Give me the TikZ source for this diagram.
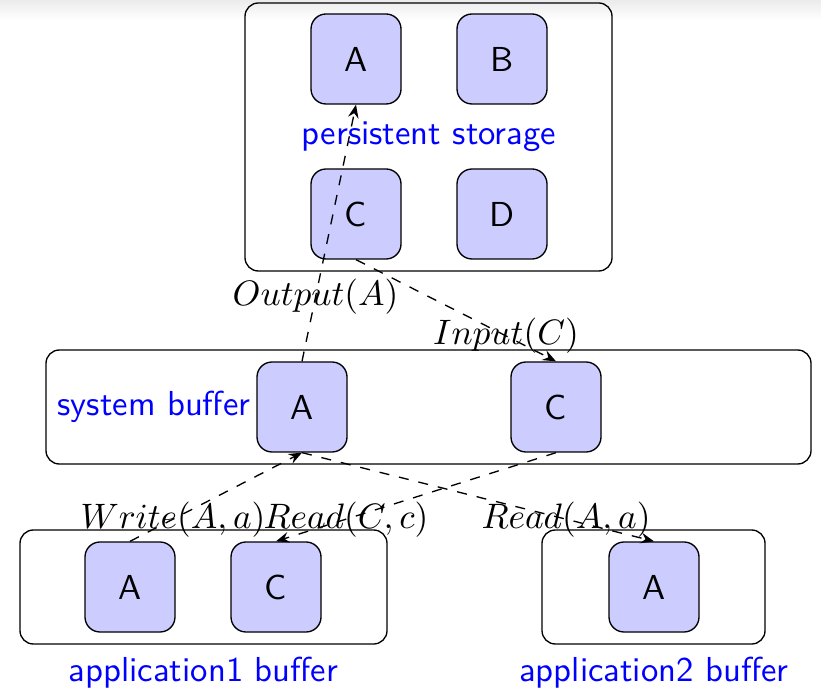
\documentclass[tikz,border=0pt]{standalone}
\usetikzlibrary{arrows.meta}
\begin{document}
\begin{tikzpicture}[x=0.3pt,y=-0.3pt,
  box/.style={draw, rounded corners=4pt, inner sep=0pt},
  blk/.style={draw, rounded corners=4.5pt, fill=blue!20, minimum width=27pt, minimum height=27pt, inner sep=0pt, font=\sffamily\fontsize{10.4}{12}\selectfont},
  lbl/.style={text=blue, font=\sffamily\fontsize{10.4}{12}\selectfont, inner sep=0pt, anchor=base},
  flow/.style={dashed, -{Stealth[length=4pt,width=3.2pt,inset=1.4pt]}},
  op/.style={inner sep=0pt, scale=1.06}]
\useasboundingbox (0,0) rectangle (821,695);
\fill[top color=black!8, bottom color=white, draw=none] (0,0) rectangle (821,20);
% containers
\node[box, minimum width=110.1pt, minimum height=80.4pt] (ps) at (428.5,137) {};
\node[box, minimum width=229.5pt, minimum height=34.2pt] (sb) at (428.5,407) {};
\node[box, minimum width=110.1pt, minimum height=34.2pt] (ab1) at (203.5,587) {};
\node[box, minimum width=66.9pt, minimum height=34.2pt] (ab2) at (653.5,587) {};
% blocks
\node[blk] (pA) at (356,59) {A};
\node[blk] (pB) at (502,59) {B};
\node[blk] (pC) at (356,214) {C};
\node[blk] (pD) at (502,214) {D};
\node[blk] (sA) at (302,407) {A};
\node[blk] (sC) at (556,407) {C};
\node[blk] (a1A) at (130,587) {A};
\node[blk] (a1C) at (276,587) {C};
\node[blk] (a2A) at (654,587) {A};
% labels
\node[lbl] (lps) at (429,145) {persistent storage};
\node[lbl] (lsb) at (154,415) {system buffer};
\node[lbl] (la1) at (203.5,681) {application1 buffer};
\node[lbl] (la2) at (654,681) {application2 buffer};
% flows
\draw[flow] (sA.north) -- node[op, pos=0.25] (tOut) {$Output(A)$} (pA.south);
\draw[flow] (pC.south) -- node[op, pos=0.75] (tIn) {$Input(C)$} (sC.north);
\draw[flow] (a1A.north) -- node[op, pos=0.25] (tW) {$Write(A,a)$} (sA.south);
\draw[flow] (sC.south) -- node[op, pos=0.75] (tRC) {$Read(C,c)$} (a1C.north);
\draw[flow] (sA.south) -- node[op, pos=0.75] (tRA) {$Read(A,a)$} (a2A.north);
\end{tikzpicture}
\end{document}
